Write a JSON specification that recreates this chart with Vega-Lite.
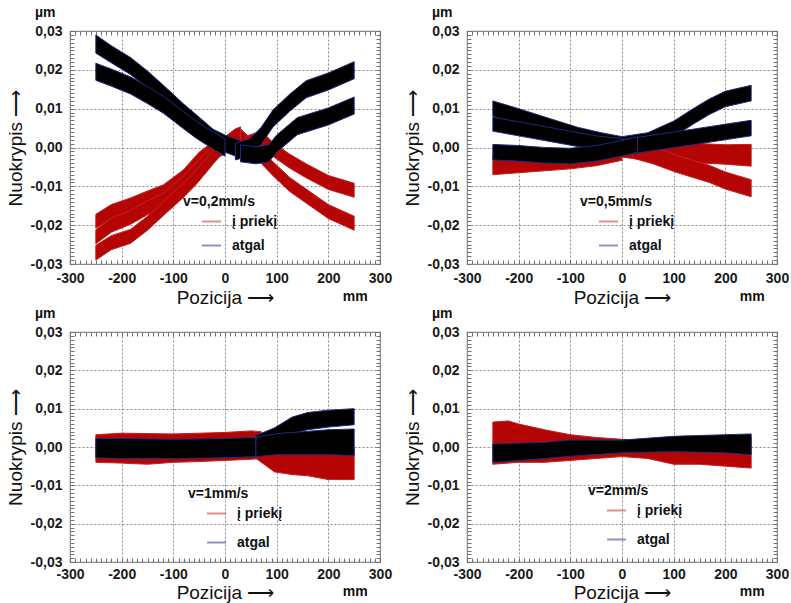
{
"$schema": "https://vega.github.io/schema/vega-lite/v6.json",
"padding": {"left": 5, "top": 5, "right": 2, "bottom": 0},
"config": {
  "font": "Liberation Sans",
  "view": {"stroke": "#8a8a8a", "strokeWidth": 1.2},
  "locale": {"number": {"decimal": ",", "thousands": " ", "grouping": [3], "currency": ["", ""], "minus": "-"}},
  "title": {"fontSize": 14, "fontWeight": "bold", "color": "#111111"},
  "axis": {"labelFontSize": 14, "labelFontWeight": "bold", "labelColor": "#1a1a1a", "labelFlush": false, "labelOverlap": false, "titleFontSize": 19, "titleFontWeight": "normal", "titleColor": "#111111", "tickColor": "#707070", "tickWidth": 1, "gridDash": [2, 2], "gridColor": "#8a8a8a", "domain": false},
  "legend": {"orient": "none", "symbolType": "stroke", "symbolSize": 360, "symbolStrokeWidth": 2, "symbolOpacity": 0.5, "symbolOffset": 18, "labelFontSize": 14, "labelFontWeight": "bold", "labelColor": "#111111", "titleFontSize": 14, "titleFontWeight": "bold", "titleColor": "#111111", "titlePadding": 2, "labelOffset": 10}
},
"datasets": {
"bands": [
{"p":"a","d":"į priekį","b":"r1","x":-250,"lo":-0.0208,"hi":-0.0172},
{"p":"a","d":"į priekį","b":"r1","x":-220,"lo":-0.0183,"hi":-0.0147},
{"p":"a","d":"į priekį","b":"r1","x":-183,"lo":-0.0166,"hi":-0.0130},
{"p":"a","d":"į priekį","b":"r1","x":-150,"lo":-0.0148,"hi":-0.0112},
{"p":"a","d":"į priekį","b":"r1","x":-119,"lo":-0.0132,"hi":-0.0096},
{"p":"a","d":"į priekį","b":"r1","x":-80,"lo":-0.0093,"hi":-0.0057},
{"p":"a","d":"į priekį","b":"r1","x":-50,"lo":-0.0048,"hi":-0.0012},
{"p":"a","d":"į priekį","b":"r1","x":-25,"lo":-0.0023,"hi":0.0013},
{"p":"a","d":"į priekį","b":"r1","x":-10,"lo":-0.0018,"hi":0.0018},
{"p":"a","d":"į priekį","b":"r2","x":-250,"lo":-0.0248,"hi":-0.0212},
{"p":"a","d":"į priekį","b":"r2","x":-220,"lo":-0.0218,"hi":-0.0182},
{"p":"a","d":"į priekį","b":"r2","x":-183,"lo":-0.0198,"hi":-0.0162},
{"p":"a","d":"į priekį","b":"r2","x":-150,"lo":-0.0173,"hi":-0.0137},
{"p":"a","d":"į priekį","b":"r2","x":-119,"lo":-0.0153,"hi":-0.0117},
{"p":"a","d":"į priekį","b":"r2","x":-80,"lo":-0.0108,"hi":-0.0072},
{"p":"a","d":"į priekį","b":"r2","x":-50,"lo":-0.0068,"hi":-0.0032},
{"p":"a","d":"į priekį","b":"r2","x":-20,"lo":-0.0028,"hi":0.0008},
{"p":"a","d":"į priekį","b":"r2","x":0,"lo":-0.0018,"hi":0.0018},
{"p":"a","d":"į priekį","b":"r3","x":-250,"lo":-0.0290,"hi":-0.0252},
{"p":"a","d":"į priekį","b":"r3","x":-220,"lo":-0.0263,"hi":-0.0227},
{"p":"a","d":"į priekį","b":"r3","x":-183,"lo":-0.0247,"hi":-0.0211},
{"p":"a","d":"į priekį","b":"r3","x":-150,"lo":-0.0213,"hi":-0.0177},
{"p":"a","d":"į priekį","b":"r3","x":-119,"lo":-0.0175,"hi":-0.0139},
{"p":"a","d":"į priekį","b":"r3","x":-80,"lo":-0.0128,"hi":-0.0092},
{"p":"a","d":"į priekį","b":"r3","x":-55,"lo":-0.0094,"hi":-0.0058},
{"p":"a","d":"į priekį","b":"r3","x":-20,"lo":-0.0038,"hi":-0.0002},
{"p":"a","d":"į priekį","b":"r3","x":0,"lo":-0.0008,"hi":0.0028},
{"p":"a","d":"į priekį","b":"r3","x":20,"lo":0.0012,"hi":0.0048},
{"p":"a","d":"į priekį","b":"r3","x":30,"lo":0.0017,"hi":0.0053},
{"p":"a","d":"į priekį","b":"r4","x":30,"lo":0.0012,"hi":0.0048},
{"p":"a","d":"į priekį","b":"r4","x":50,"lo":-0.0013,"hi":0.0023},
{"p":"a","d":"į priekį","b":"r4","x":93,"lo":-0.0073,"hi":-0.0037},
{"p":"a","d":"į priekį","b":"r4","x":125,"lo":-0.0113,"hi":-0.0077},
{"p":"a","d":"į priekį","b":"r4","x":157,"lo":-0.0143,"hi":-0.0107},
{"p":"a","d":"į priekį","b":"r4","x":200,"lo":-0.0183,"hi":-0.0147},
{"p":"a","d":"į priekį","b":"r4","x":250,"lo":-0.0213,"hi":-0.0177},
{"p":"a","d":"į priekį","b":"r5","x":40,"lo":-0.0008,"hi":0.0028},
{"p":"a","d":"į priekį","b":"r5","x":70,"lo":0.0007,"hi":0.0043},
{"p":"a","d":"į priekį","b":"r5","x":93,"lo":-0.0023,"hi":0.0013},
{"p":"a","d":"į priekį","b":"r5","x":125,"lo":-0.0053,"hi":-0.0017},
{"p":"a","d":"į priekį","b":"r5","x":157,"lo":-0.0078,"hi":-0.0042},
{"p":"a","d":"į priekį","b":"r5","x":200,"lo":-0.0108,"hi":-0.0072},
{"p":"a","d":"į priekį","b":"r5","x":250,"lo":-0.0128,"hi":-0.0092},
{"p":"a","d":"atgal","b":"b1","x":-250,"lo":0.0243,"hi":0.0290},
{"p":"a","d":"atgal","b":"b1","x":-220,"lo":0.0218,"hi":0.0262},
{"p":"a","d":"atgal","b":"b1","x":-183,"lo":0.0188,"hi":0.0232},
{"p":"a","d":"atgal","b":"b1","x":-150,"lo":0.0153,"hi":0.0197},
{"p":"a","d":"atgal","b":"b1","x":-119,"lo":0.0116,"hi":0.0160},
{"p":"a","d":"atgal","b":"b1","x":-80,"lo":0.0068,"hi":0.0112},
{"p":"a","d":"atgal","b":"b1","x":-55,"lo":0.0040,"hi":0.0084},
{"p":"a","d":"atgal","b":"b1","x":-23,"lo":0.0003,"hi":0.0047},
{"p":"a","d":"atgal","b":"b1","x":0,"lo":-0.0012,"hi":0.0032},
{"p":"a","d":"atgal","b":"b1","x":30,"lo":-0.0027,"hi":0.0017},
{"p":"a","d":"atgal","b":"b2","x":-250,"lo":0.0173,"hi":0.0217},
{"p":"a","d":"atgal","b":"b2","x":-220,"lo":0.0158,"hi":0.0202},
{"p":"a","d":"atgal","b":"b2","x":-183,"lo":0.0138,"hi":0.0182},
{"p":"a","d":"atgal","b":"b2","x":-150,"lo":0.0113,"hi":0.0157},
{"p":"a","d":"atgal","b":"b2","x":-119,"lo":0.0088,"hi":0.0132},
{"p":"a","d":"atgal","b":"b2","x":-80,"lo":0.0048,"hi":0.0092},
{"p":"a","d":"atgal","b":"b2","x":-55,"lo":0.0023,"hi":0.0067},
{"p":"a","d":"atgal","b":"b2","x":-25,"lo":-0.0002,"hi":0.0042},
{"p":"a","d":"atgal","b":"b2","x":0,"lo":-0.0022,"hi":0.0022},
{"p":"a","d":"atgal","b":"b3","x":20,"lo":-0.0032,"hi":0.0012},
{"p":"a","d":"atgal","b":"b3","x":48,"lo":-0.0022,"hi":0.0022},
{"p":"a","d":"atgal","b":"b3","x":70,"lo":0.0008,"hi":0.0052},
{"p":"a","d":"atgal","b":"b3","x":93,"lo":0.0053,"hi":0.0097},
{"p":"a","d":"atgal","b":"b3","x":125,"lo":0.0093,"hi":0.0137},
{"p":"a","d":"atgal","b":"b3","x":157,"lo":0.0128,"hi":0.0172},
{"p":"a","d":"atgal","b":"b3","x":200,"lo":0.0148,"hi":0.0192},
{"p":"a","d":"atgal","b":"b3","x":250,"lo":0.0177,"hi":0.0221},
{"p":"a","d":"atgal","b":"b4","x":30,"lo":-0.0037,"hi":0.0007},
{"p":"a","d":"atgal","b":"b4","x":60,"lo":-0.0042,"hi":0.0002},
{"p":"a","d":"atgal","b":"b4","x":85,"lo":-0.0037,"hi":0.0007},
{"p":"a","d":"atgal","b":"b4","x":100,"lo":-0.0012,"hi":0.0032},
{"p":"a","d":"atgal","b":"b4","x":140,"lo":0.0033,"hi":0.0077},
{"p":"a","d":"atgal","b":"b4","x":200,"lo":0.0058,"hi":0.0102},
{"p":"a","d":"atgal","b":"b4","x":250,"lo":0.0086,"hi":0.0130},
{"p":"b","d":"į priekį","b":"r1","x":-250,"lo":-0.0070,"hi":-0.0020},
{"p":"b","d":"į priekį","b":"r1","x":-200,"lo":-0.0065,"hi":-0.0015},
{"p":"b","d":"į priekį","b":"r1","x":-150,"lo":-0.0060,"hi":-0.0010},
{"p":"b","d":"į priekį","b":"r1","x":-100,"lo":-0.0055,"hi":-0.0005},
{"p":"b","d":"į priekį","b":"r1","x":-50,"lo":-0.0047,"hi":0.0003},
{"p":"b","d":"į priekį","b":"r1","x":0,"lo":-0.0033,"hi":0.0017},
{"p":"b","d":"į priekį","b":"r2","x":0,"lo":-0.0025,"hi":0.0025},
{"p":"b","d":"į priekį","b":"r2","x":50,"lo":-0.0033,"hi":0.0017},
{"p":"b","d":"į priekį","b":"r2","x":100,"lo":-0.0037,"hi":0.0013},
{"p":"b","d":"į priekį","b":"r2","x":150,"lo":-0.0040,"hi":0.0010},
{"p":"b","d":"į priekį","b":"r2","x":200,"lo":-0.0043,"hi":0.0007},
{"p":"b","d":"į priekį","b":"r2","x":250,"lo":-0.0048,"hi":0.0008},
{"p":"b","d":"į priekį","b":"r3","x":20,"lo":-0.0027,"hi":0.0017},
{"p":"b","d":"į priekį","b":"r3","x":60,"lo":-0.0042,"hi":0.0002},
{"p":"b","d":"į priekį","b":"r3","x":105,"lo":-0.0064,"hi":-0.0020},
{"p":"b","d":"į priekį","b":"r3","x":169,"lo":-0.0090,"hi":-0.0046},
{"p":"b","d":"į priekį","b":"r3","x":200,"lo":-0.0107,"hi":-0.0063},
{"p":"b","d":"į priekį","b":"r3","x":250,"lo":-0.0127,"hi":-0.0083},
{"p":"b","d":"atgal","b":"b1","x":-250,"lo":0.0080,"hi":0.0120},
{"p":"b","d":"atgal","b":"b1","x":-200,"lo":0.0060,"hi":0.0100},
{"p":"b","d":"atgal","b":"b1","x":-148,"lo":0.0038,"hi":0.0078},
{"p":"b","d":"atgal","b":"b1","x":-86,"lo":0.0012,"hi":0.0052},
{"p":"b","d":"atgal","b":"b1","x":-40,"lo":-0.0002,"hi":0.0038},
{"p":"b","d":"atgal","b":"b1","x":0,"lo":-0.0012,"hi":0.0028},
{"p":"b","d":"atgal","b":"b1","x":50,"lo":-0.0002,"hi":0.0038},
{"p":"b","d":"atgal","b":"b1","x":100,"lo":0.0028,"hi":0.0068},
{"p":"b","d":"atgal","b":"b1","x":140,"lo":0.0062,"hi":0.0102},
{"p":"b","d":"atgal","b":"b1","x":169,"lo":0.0085,"hi":0.0125},
{"p":"b","d":"atgal","b":"b1","x":200,"lo":0.0105,"hi":0.0145},
{"p":"b","d":"atgal","b":"b1","x":250,"lo":0.0120,"hi":0.0160},
{"p":"b","d":"atgal","b":"b2","x":-250,"lo":0.0042,"hi":0.0078},
{"p":"b","d":"atgal","b":"b2","x":-200,"lo":0.0030,"hi":0.0066},
{"p":"b","d":"atgal","b":"b2","x":-150,"lo":0.0018,"hi":0.0054},
{"p":"b","d":"atgal","b":"b2","x":-100,"lo":0.0006,"hi":0.0042},
{"p":"b","d":"atgal","b":"b2","x":-50,"lo":-0.0006,"hi":0.0030},
{"p":"b","d":"atgal","b":"b2","x":0,"lo":-0.0013,"hi":0.0023},
{"p":"b","d":"atgal","b":"b3","x":0,"lo":-0.0020,"hi":0.0020},
{"p":"b","d":"atgal","b":"b3","x":50,"lo":-0.0010,"hi":0.0030},
{"p":"b","d":"atgal","b":"b3","x":100,"lo":0.0000,"hi":0.0040},
{"p":"b","d":"atgal","b":"b3","x":137,"lo":0.0007,"hi":0.0047},
{"p":"b","d":"atgal","b":"b3","x":200,"lo":0.0020,"hi":0.0060},
{"p":"b","d":"atgal","b":"b3","x":250,"lo":0.0030,"hi":0.0070},
{"p":"b","d":"atgal","b":"b4","x":-250,"lo":-0.0032,"hi":0.0008},
{"p":"b","d":"atgal","b":"b4","x":-200,"lo":-0.0035,"hi":0.0005},
{"p":"b","d":"atgal","b":"b4","x":-150,"lo":-0.0040,"hi":0.0000},
{"p":"b","d":"atgal","b":"b4","x":-100,"lo":-0.0042,"hi":-0.0002},
{"p":"b","d":"atgal","b":"b4","x":-50,"lo":-0.0035,"hi":0.0005},
{"p":"b","d":"atgal","b":"b4","x":0,"lo":-0.0022,"hi":0.0018},
{"p":"b","d":"atgal","b":"b4","x":30,"lo":-0.0012,"hi":0.0028},
{"p":"c","d":"į priekį","b":"r1","x":-250,"lo":-0.0040,"hi":0.0032},
{"p":"c","d":"į priekį","b":"r1","x":-200,"lo":-0.0042,"hi":0.0036},
{"p":"c","d":"į priekį","b":"r1","x":-150,"lo":-0.0045,"hi":0.0035},
{"p":"c","d":"į priekį","b":"r1","x":-100,"lo":-0.0040,"hi":0.0034},
{"p":"c","d":"į priekį","b":"r1","x":-50,"lo":-0.0038,"hi":0.0036},
{"p":"c","d":"į priekį","b":"r1","x":0,"lo":-0.0035,"hi":0.0038},
{"p":"c","d":"į priekį","b":"r1","x":50,"lo":-0.0032,"hi":0.0042},
{"p":"c","d":"į priekį","b":"r1","x":70,"lo":-0.0030,"hi":0.0040},
{"p":"c","d":"į priekį","b":"r2","x":60,"lo":-0.0030,"hi":0.0020},
{"p":"c","d":"į priekį","b":"r2","x":96,"lo":-0.0065,"hi":0.0000},
{"p":"c","d":"į priekį","b":"r2","x":130,"lo":-0.0072,"hi":-0.0002},
{"p":"c","d":"į priekį","b":"r2","x":160,"lo":-0.0075,"hi":-0.0003},
{"p":"c","d":"į priekį","b":"r2","x":200,"lo":-0.0085,"hi":-0.0004},
{"p":"c","d":"į priekį","b":"r2","x":250,"lo":-0.0085,"hi":-0.0004},
{"p":"c","d":"atgal","b":"b1","x":-250,"lo":-0.0028,"hi":0.0022},
{"p":"c","d":"atgal","b":"b1","x":-200,"lo":-0.0030,"hi":0.0022},
{"p":"c","d":"atgal","b":"b1","x":-100,"lo":-0.0030,"hi":0.0020},
{"p":"c","d":"atgal","b":"b1","x":0,"lo":-0.0028,"hi":0.0022},
{"p":"c","d":"atgal","b":"b1","x":60,"lo":-0.0025,"hi":0.0025},
{"p":"c","d":"atgal","b":"b2","x":60,"lo":0.0000,"hi":0.0030},
{"p":"c","d":"atgal","b":"b2","x":96,"lo":0.0010,"hi":0.0050},
{"p":"c","d":"atgal","b":"b2","x":130,"lo":0.0035,"hi":0.0078},
{"p":"c","d":"atgal","b":"b2","x":160,"lo":0.0045,"hi":0.0090},
{"p":"c","d":"atgal","b":"b2","x":200,"lo":0.0052,"hi":0.0096},
{"p":"c","d":"atgal","b":"b2","x":250,"lo":0.0058,"hi":0.0100},
{"p":"c","d":"atgal","b":"b3","x":60,"lo":-0.0025,"hi":0.0025},
{"p":"c","d":"atgal","b":"b3","x":100,"lo":-0.0020,"hi":0.0035},
{"p":"c","d":"atgal","b":"b3","x":150,"lo":-0.0020,"hi":0.0040},
{"p":"c","d":"atgal","b":"b3","x":200,"lo":-0.0020,"hi":0.0045},
{"p":"c","d":"atgal","b":"b3","x":250,"lo":-0.0022,"hi":0.0047},
{"p":"d","d":"į priekį","b":"r1","x":-250,"lo":-0.0045,"hi":0.0065},
{"p":"d","d":"į priekį","b":"r1","x":-220,"lo":-0.0042,"hi":0.0068},
{"p":"d","d":"į priekį","b":"r1","x":-200,"lo":-0.0040,"hi":0.0060},
{"p":"d","d":"į priekį","b":"r1","x":-150,"lo":-0.0040,"hi":0.0045},
{"p":"d","d":"į priekį","b":"r1","x":-100,"lo":-0.0035,"hi":0.0032},
{"p":"d","d":"į priekį","b":"r1","x":-50,"lo":-0.0030,"hi":0.0025},
{"p":"d","d":"į priekį","b":"r1","x":0,"lo":-0.0025,"hi":0.0020},
{"p":"d","d":"į priekį","b":"r1","x":50,"lo":-0.0030,"hi":0.0018},
{"p":"d","d":"į priekį","b":"r1","x":100,"lo":-0.0045,"hi":0.0016},
{"p":"d","d":"į priekį","b":"r1","x":150,"lo":-0.0045,"hi":0.0018},
{"p":"d","d":"į priekį","b":"r1","x":200,"lo":-0.0050,"hi":0.0020},
{"p":"d","d":"į priekį","b":"r1","x":250,"lo":-0.0055,"hi":0.0025},
{"p":"d","d":"atgal","b":"b1","x":-250,"lo":-0.0040,"hi":0.0008},
{"p":"d","d":"atgal","b":"b1","x":-150,"lo":-0.0030,"hi":0.0012},
{"p":"d","d":"atgal","b":"b1","x":-100,"lo":-0.0024,"hi":0.0018},
{"p":"d","d":"atgal","b":"b1","x":0,"lo":-0.0015,"hi":0.0018},
{"p":"d","d":"atgal","b":"b1","x":100,"lo":-0.0012,"hi":0.0028},
{"p":"d","d":"atgal","b":"b1","x":200,"lo":-0.0015,"hi":0.0032},
{"p":"d","d":"atgal","b":"b1","x":250,"lo":-0.0020,"hi":0.0034}
]
},
"columns": 2,
"bounds": "flush",
"spacing": {"row": 68, "column": 87},
"resolve": {"scale": {"stroke": "independent"}, "legend": {"stroke": "independent"}},
"concat": [
{
"width": 310, "height": 233,
"title": {"text": "µm", "anchor": "start", "frame": "group", "dx": -35, "offset": 4},
"layer": [
{"data": {"name": "bands"}, "transform": [{"filter": "datum.p === 'a' && datum.d === 'į priekį'"}],
 "mark": {"type": "area", "fill": "#b50404", "strokeWidth": 1},
 "encoding": {
  "x": {"field": "x", "type": "quantitative", "scale": {"domain": [-300, 300], "nice": false, "zero": false},
        "axis": {"orient": "bottom", "values": [-300,-200,-100,0,100,200,300], "format": "d", "title": "Pozicija ⟶", "grid": true, "ticks": false, "labelPadding": 7, "titlePadding": 3}},
  "y": {"field": "lo", "type": "quantitative", "scale": {"domain": [-0.03, 0.03], "nice": false, "zero": false},
        "axis": {"orient": "left", "values": [-0.03,-0.02,-0.01,0,0.01,0.02,0.03], "format": ".2f", "title": "Nuokrypis ⟶", "grid": true, "ticks": false, "labelPadding": 8, "titlePadding": 5}},
  "y2": {"field": "hi"},
  "detail": {"field": "b"},
  "stroke": {"field": "d", "type": "nominal", "scale": {"domain": ["į priekį", "atgal"], "range": ["#c42020", "#1c2a80"]},
             "legend": {"title": "v=0,2mm/s", "legendX": 113, "legendY": 164, "rowPadding": 6}}
 }},
{"data": {"name": "bands"}, "transform": [{"filter": "datum.p === 'a' && datum.d === 'atgal'"}],
 "mark": {"type": "area", "fill": "#000000", "strokeWidth": 1},
 "encoding": {
  "x": {"field": "x", "type": "quantitative", "scale": {"domain": [-300, 300], "nice": false, "zero": false}, "axis": {"orient": "top", "tickCount": 60, "grid": false, "labels": false, "ticks": true, "tickSize": 4, "offset": -4, "title": null}},
  "y": {"field": "lo", "type": "quantitative", "scale": {"domain": [-0.03, 0.03], "nice": false, "zero": false}, "axis": {"orient": "right", "tickCount": 60, "grid": false, "labels": false, "ticks": true, "tickSize": 4, "offset": -4, "title": null}},
  "y2": {"field": "hi"},
  "detail": {"field": "b"},
  "stroke": {"field": "d", "type": "nominal"}
 }},
{"data": {"values": [{"u": "mm"}]},
 "mark": {"type": "text", "fontSize": 14, "fontWeight": "bold", "color": "#111111", "baseline": "middle"},
 "encoding": {
  "x": {"datum": 252, "type": "quantitative", "scale": {"domain": [-300, 300], "nice": false, "zero": false}, "axis": {"orient": "bottom", "tickCount": 60, "grid": false, "labels": false, "ticks": true, "tickSize": 4, "offset": -4, "title": null}},
  "y": {"datum": -0.0385, "type": "quantitative", "scale": {"domain": [-0.03, 0.03], "nice": false, "zero": false}, "axis": {"orient": "left", "tickCount": 60, "grid": false, "labels": false, "ticks": true, "tickSize": 4, "offset": -4, "title": null}},
  "text": {"field": "u"}
 }}
],
"resolve": {"scale": {"x": "independent", "y": "independent"}, "axis": {"x": "independent", "y": "independent"}}
},
{
"width": 310, "height": 233,
"title": {"text": "µm", "anchor": "start", "frame": "group", "dx": -35, "offset": 4},
"layer": [
{"data": {"name": "bands"}, "transform": [{"filter": "datum.p === 'b' && datum.d === 'į priekį'"}],
 "mark": {"type": "area", "fill": "#b50404", "strokeWidth": 1},
 "encoding": {
  "x": {"field": "x", "type": "quantitative", "scale": {"domain": [-300, 300], "nice": false, "zero": false},
        "axis": {"orient": "bottom", "values": [-300,-200,-100,0,100,200,300], "format": "d", "title": "Pozicija ⟶", "grid": true, "ticks": false, "labelPadding": 7, "titlePadding": 3}},
  "y": {"field": "lo", "type": "quantitative", "scale": {"domain": [-0.03, 0.03], "nice": false, "zero": false},
        "axis": {"orient": "left", "values": [-0.03,-0.02,-0.01,0,0.01,0.02,0.03], "format": ".2f", "title": "Nuokrypis ⟶", "grid": true, "ticks": false, "labelPadding": 8, "titlePadding": 5}},
  "y2": {"field": "hi"},
  "detail": {"field": "b"},
  "stroke": {"field": "d", "type": "nominal", "scale": {"domain": ["į priekį", "atgal"], "range": ["#c42020", "#1c2a80"]},
             "legend": {"title": "v=0,5mm/s", "legendX": 113, "legendY": 164, "rowPadding": 6}}
 }},
{"data": {"name": "bands"}, "transform": [{"filter": "datum.p === 'b' && datum.d === 'atgal'"}],
 "mark": {"type": "area", "fill": "#000000", "strokeWidth": 1},
 "encoding": {
  "x": {"field": "x", "type": "quantitative", "scale": {"domain": [-300, 300], "nice": false, "zero": false}, "axis": {"orient": "top", "tickCount": 60, "grid": false, "labels": false, "ticks": true, "tickSize": 4, "offset": -4, "title": null}},
  "y": {"field": "lo", "type": "quantitative", "scale": {"domain": [-0.03, 0.03], "nice": false, "zero": false}, "axis": {"orient": "right", "tickCount": 60, "grid": false, "labels": false, "ticks": true, "tickSize": 4, "offset": -4, "title": null}},
  "y2": {"field": "hi"},
  "detail": {"field": "b"},
  "stroke": {"field": "d", "type": "nominal"}
 }},
{"data": {"values": [{"u": "mm"}]},
 "mark": {"type": "text", "fontSize": 14, "fontWeight": "bold", "color": "#111111", "baseline": "middle"},
 "encoding": {
  "x": {"datum": 252, "type": "quantitative", "scale": {"domain": [-300, 300], "nice": false, "zero": false}, "axis": {"orient": "bottom", "tickCount": 60, "grid": false, "labels": false, "ticks": true, "tickSize": 4, "offset": -4, "title": null}},
  "y": {"datum": -0.0385, "type": "quantitative", "scale": {"domain": [-0.03, 0.03], "nice": false, "zero": false}, "axis": {"orient": "left", "tickCount": 60, "grid": false, "labels": false, "ticks": true, "tickSize": 4, "offset": -4, "title": null}},
  "text": {"field": "u"}
 }}
],
"resolve": {"scale": {"x": "independent", "y": "independent"}, "axis": {"x": "independent", "y": "independent"}}
},
{
"width": 310, "height": 230,
"title": {"text": "µm", "anchor": "start", "frame": "group", "dx": -35, "offset": 4},
"layer": [
{"data": {"name": "bands"}, "transform": [{"filter": "datum.p === 'c' && datum.d === 'į priekį'"}],
 "mark": {"type": "area", "fill": "#b50404", "strokeWidth": 1},
 "encoding": {
  "x": {"field": "x", "type": "quantitative", "scale": {"domain": [-300, 300], "nice": false, "zero": false},
        "axis": {"orient": "bottom", "values": [-300,-200,-100,0,100,200,300], "format": "d", "title": "Pozicija ⟶", "grid": true, "ticks": false, "labelPadding": 5, "titlePadding": 2}},
  "y": {"field": "lo", "type": "quantitative", "scale": {"domain": [-0.03, 0.03], "nice": false, "zero": false},
        "axis": {"orient": "left", "values": [-0.03,-0.02,-0.01,0,0.01,0.02,0.03], "format": ".2f", "title": "Nuokrypis ⟶", "grid": true, "ticks": false, "labelPadding": 8, "titlePadding": 5}},
  "y2": {"field": "hi"},
  "detail": {"field": "b"},
  "stroke": {"field": "d", "type": "nominal", "scale": {"domain": ["į priekį", "atgal"], "range": ["#c42020", "#1c2a80"]},
             "legend": {"title": "v=1mm/s", "legendX": 118, "legendY": 155, "rowPadding": 11}}
 }},
{"data": {"name": "bands"}, "transform": [{"filter": "datum.p === 'c' && datum.d === 'atgal'"}],
 "mark": {"type": "area", "fill": "#000000", "strokeWidth": 1},
 "encoding": {
  "x": {"field": "x", "type": "quantitative", "scale": {"domain": [-300, 300], "nice": false, "zero": false}, "axis": {"orient": "top", "tickCount": 60, "grid": false, "labels": false, "ticks": true, "tickSize": 4, "offset": -4, "title": null}},
  "y": {"field": "lo", "type": "quantitative", "scale": {"domain": [-0.03, 0.03], "nice": false, "zero": false}, "axis": {"orient": "right", "tickCount": 60, "grid": false, "labels": false, "ticks": true, "tickSize": 4, "offset": -4, "title": null}},
  "y2": {"field": "hi"},
  "detail": {"field": "b"},
  "stroke": {"field": "d", "type": "nominal"}
 }},
{"data": {"values": [{"u": "mm"}]},
 "mark": {"type": "text", "fontSize": 14, "fontWeight": "bold", "color": "#111111", "baseline": "middle"},
 "encoding": {
  "x": {"datum": 252, "type": "quantitative", "scale": {"domain": [-300, 300], "nice": false, "zero": false}, "axis": {"orient": "bottom", "tickCount": 60, "grid": false, "labels": false, "ticks": true, "tickSize": 4, "offset": -4, "title": null}},
  "y": {"datum": -0.0378, "type": "quantitative", "scale": {"domain": [-0.03, 0.03], "nice": false, "zero": false}, "axis": {"orient": "left", "tickCount": 60, "grid": false, "labels": false, "ticks": true, "tickSize": 4, "offset": -4, "title": null}},
  "text": {"field": "u"}
 }}
],
"resolve": {"scale": {"x": "independent", "y": "independent"}, "axis": {"x": "independent", "y": "independent"}}
},
{
"width": 310, "height": 230,
"title": {"text": "µm", "anchor": "start", "frame": "group", "dx": -35, "offset": 4},
"layer": [
{"data": {"name": "bands"}, "transform": [{"filter": "datum.p === 'd' && datum.d === 'į priekį'"}],
 "mark": {"type": "area", "fill": "#b50404", "strokeWidth": 1},
 "encoding": {
  "x": {"field": "x", "type": "quantitative", "scale": {"domain": [-300, 300], "nice": false, "zero": false},
        "axis": {"orient": "bottom", "values": [-300,-200,-100,0,100,200,300], "format": "d", "title": "Pozicija ⟶", "grid": true, "ticks": false, "labelPadding": 5, "titlePadding": 2}},
  "y": {"field": "lo", "type": "quantitative", "scale": {"domain": [-0.03, 0.03], "nice": false, "zero": false},
        "axis": {"orient": "left", "values": [-0.03,-0.02,-0.01,0,0.01,0.02,0.03], "format": ".2f", "title": "Nuokrypis ⟶", "grid": true, "ticks": false, "labelPadding": 8, "titlePadding": 5}},
  "y2": {"field": "hi"},
  "detail": {"field": "b"},
  "stroke": {"field": "d", "type": "nominal", "scale": {"domain": ["į priekį", "atgal"], "range": ["#c42020", "#1c2a80"]},
             "legend": {"title": "v=2mm/s", "legendX": 121, "legendY": 152, "rowPadding": 11}}
 }},
{"data": {"name": "bands"}, "transform": [{"filter": "datum.p === 'd' && datum.d === 'atgal'"}],
 "mark": {"type": "area", "fill": "#000000", "strokeWidth": 1},
 "encoding": {
  "x": {"field": "x", "type": "quantitative", "scale": {"domain": [-300, 300], "nice": false, "zero": false}, "axis": {"orient": "top", "tickCount": 60, "grid": false, "labels": false, "ticks": true, "tickSize": 4, "offset": -4, "title": null}},
  "y": {"field": "lo", "type": "quantitative", "scale": {"domain": [-0.03, 0.03], "nice": false, "zero": false}, "axis": {"orient": "right", "tickCount": 60, "grid": false, "labels": false, "ticks": true, "tickSize": 4, "offset": -4, "title": null}},
  "y2": {"field": "hi"},
  "detail": {"field": "b"},
  "stroke": {"field": "d", "type": "nominal"}
 }},
{"data": {"values": [{"u": "mm"}]},
 "mark": {"type": "text", "fontSize": 14, "fontWeight": "bold", "color": "#111111", "baseline": "middle"},
 "encoding": {
  "x": {"datum": 252, "type": "quantitative", "scale": {"domain": [-300, 300], "nice": false, "zero": false}, "axis": {"orient": "bottom", "tickCount": 60, "grid": false, "labels": false, "ticks": true, "tickSize": 4, "offset": -4, "title": null}},
  "y": {"datum": -0.0378, "type": "quantitative", "scale": {"domain": [-0.03, 0.03], "nice": false, "zero": false}, "axis": {"orient": "left", "tickCount": 60, "grid": false, "labels": false, "ticks": true, "tickSize": 4, "offset": -4, "title": null}},
  "text": {"field": "u"}
 }}
],
"resolve": {"scale": {"x": "independent", "y": "independent"}, "axis": {"x": "independent", "y": "independent"}}
}
]
}
